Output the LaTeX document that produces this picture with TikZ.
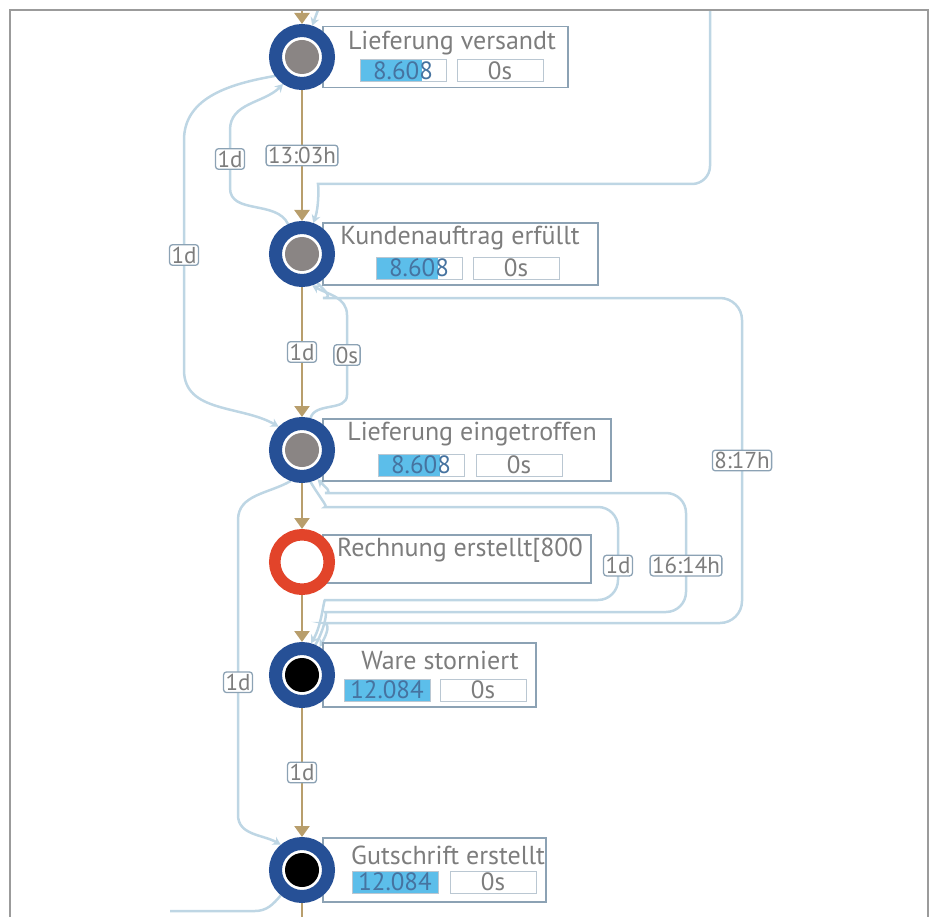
\documentclass[tikz,border=0pt]{standalone}
\usepackage{fontspec}
\setmainfont{PT Sans}
\usetikzlibrary{arrows.meta,backgrounds}

\definecolor{ringblue}{RGB}{38,80,150}
\definecolor{dotgray}{RGB}{138,133,132}
\definecolor{flowtan}{RGB}{184,158,108}
\definecolor{loopblue}{RGB}{190,214,228}
\definecolor{boxline}{RGB}{140,162,180}
\definecolor{countblue}{RGB}{92,190,234}
\definecolor{countdark}{RGB}{70,115,160}
\definecolor{ringred}{RGB}{226,68,42}
\definecolor{txtgray}{RGB}{125,125,125}
\definecolor{framegray}{RGB}{155,155,155}

\begin{document}
\begin{tikzpicture}[x=1pt,y=1pt,
    mainflow/.style={draw=flowtan,line width=2.5pt,-{Triangle[width=15pt,length=11pt]}},
    backflow/.style={draw=loopblue,line width=2.5pt,-{Stealth[width=9pt,length=8pt]}},
    backline/.style={draw=loopblue,line width=2.5pt},
    lbl/.style={draw=boxline,line width=1.3pt,rounded corners=3pt,fill=white,inner sep=2pt,text=txtgray,font=\fontsize{23}{23}\selectfont},
    infobox/.style={draw=boxline,line width=1.6pt,fill=white,anchor=west,inner sep=0pt},
    acttitle/.style={text=txtgray,font=\fontsize{26}{26}\selectfont,inner sep=0pt},
    countbox/.style={draw=boxline!60,line width=1pt,minimum width=86pt,minimum height=22pt,inner sep=0pt,text=countdark,font=\fontsize{25}{25}\selectfont},
    countfill/.style={path picture={\fill[countblue] (path picture bounding box.south west) rectangle ([xshift=-#1]path picture bounding box.north east);}},
    timebox/.style={draw=boxline!60,line width=1pt,minimum width=86pt,minimum height=22pt,inner sep=0pt,text=txtgray,font=\fontsize{25}{25}\selectfont},
    grayact/.style={circle,draw=ringblue,line width=13pt,fill=white,minimum size=53pt,inner sep=0pt,
      path picture={\fill[dotgray] (path picture bounding box.center) circle (17pt);}},
    blackact/.style={circle,draw=ringblue,line width=13pt,fill=white,minimum size=53pt,inner sep=0pt,
      path picture={\fill[black] (path picture bounding box.center) circle (17pt);}},
    redact/.style={circle,draw=ringred,line width=11.5pt,fill=white,minimum size=54.5pt,inner sep=0pt},
    frameline/.style={draw=framegray,line width=2pt}
  ]
  \useasboundingbox (0,0) rectangle (936,-917);
  \draw[frameline] (10,-917) -- (10,-10.5) -- (927.5,-10.5) -- (927.5,-917);

  % Lieferung versandt
  \node[infobox,minimum width=245pt,minimum height=61pt] (lvbox) at (322,-57) {};
  \node[acttitle] (lvtitle) at (452,-43) {Lieferung versandt};
  \node[countbox,countfill=24pt] (lvcount) at (403,-71) {8.608};
  \node[timebox] (lvtime) at (500,-71) {0s};
  \node[grayact] (lv) at (302,-57) {};

  % Kundenauftrag erfuellt
  \node[infobox,minimum width=275pt,minimum height=62pt] (kabox) at (322,-254) {};
  \node[acttitle] (katitle) at (460,-238) {Kundenauftrag erfüllt};
  \node[countbox,countfill=24pt] (kacount) at (419,-268) {8.608};
  \node[timebox] (katime) at (516,-268) {0s};
  \node[grayact] (ka) at (302,-254) {};

  % Lieferung eingetroffen
  \node[infobox,minimum width=288pt,minimum height=62pt] (lebox) at (322,-450) {};
  \node[acttitle] (letitle) at (472,-434) {Lieferung eingetroffen};
  \node[countbox,countfill=24pt] (lecount) at (421,-465) {8.608};
  \node[timebox] (letime) at (519,-465) {0s};
  \node[grayact] (le) at (302,-450) {};

  % Rechnung erstellt
  \node[infobox,minimum width=268pt,minimum height=48pt] (rebox) at (322,-559) {};
  \node[acttitle,anchor=west] (retitle) at (337,-550) {Rechnung erstellt[800};
  \node[redact] (re) at (302,-562) {};

  % Ware storniert
  \node[infobox,minimum width=213pt,minimum height=64pt] (wsbox) at (322,-675) {};
  \node[acttitle] (wstitle) at (440,-660) {Ware storniert};
  \node[countbox,countfill=0pt] (wscount) at (387,-690) {12.084};
  \node[timebox] (wstime) at (483,-690) {0s};
  \node[blackact] (ws) at (302,-675) {};

  % Gutschrift erstellt
  \node[infobox,minimum width=223pt,minimum height=64pt] (gsbox) at (322,-870) {};
  \node[acttitle] (gstitle) at (448,-855) {Gutschrift erstellt};
  \node[countbox,countfill=0pt] (gscount) at (395,-882) {12.084};
  \node[timebox] (gstime) at (493,-882) {0s};
  \node[blackact] (gs) at (302,-870) {};

  \coordinate (topin) at (302,-10);
  \coordinate (tl) at (318,-10);
  \coordinate (tr) at (710,-10);
  \coordinate (botout) at (302,-917);
  \coordinate (off) at (170,-911);

  \begin{scope}[on background layer]
    % main flow
    \draw[mainflow] (topin) -- (lv);
    \draw[mainflow] (lv) -- node[lbl] {13:03h} (ka);
    \draw[mainflow] (ka) -- node[lbl] {1d} (le);
    \draw[mainflow] (le) -- (re);
    \draw[mainflow] (re) -- (ws);
    \draw[mainflow] (ws) -- node[lbl] {1d} (gs);
    \draw[mainflow,-] (gs) -- (botout);
    % other connections
    \draw[backflow] (tl) -- (lv.72);
    \draw[backflow,rounded corners=18pt] (tr) |- (336,-184) to[out=180,in=70] (ka.70);
    \draw[backflow] (ka.115) to[out=115,in=-90] (230,-188) -- node[lbl] {1d} (230,-130) to[out=90,in=225] (lv.235);
    \draw[backflow] (lv.215) to[out=190,in=90] (184,-140) -- node[lbl] {1d} (184,-370) to[out=-90,in=150] (le.135);
    \draw[backflow] (le.75) to[out=75,in=-90] (347,-395) -- node[lbl] {0s} (347,-315) to[out=90,in=-30] (ka.-72);
    \draw[backflow,rounded corners=22pt] (ka.-62) to[out=-45,in=180] (345,-298) -- (742,-298) -- node[lbl] {8:17h} (742,-623) -- (345,-623) to[out=180,in=60] (ws.58);
    \draw[backflow,rounded corners=20pt] (le.-75) to[out=-60,in=180] (345,-507) -- (618,-507) -- node[lbl,pos=0.63] {1d} (618,-600) -- (345,-600) to[out=180,in=60] (ws.74);
    \draw[backflow,rounded corners=20pt] (ws.66) to[out=60,in=180] (345,-612) -- (686,-612) -- node[lbl,pos=0.39] {16:14h} (686,-493) -- (345,-493) to[out=180,in=-45] (le.-62);
    \draw[backflow] (le.-110) to[out=-150,in=90] (238,-520) -- node[lbl,pos=0.55] {1d} (238,-815) to[out=-90,in=150] (gs.130);
    \draw[backline] (gs.-130) to[out=-130,in=0] (255,-911) -- (off);
  \end{scope}
\end{tikzpicture}
\end{document}
